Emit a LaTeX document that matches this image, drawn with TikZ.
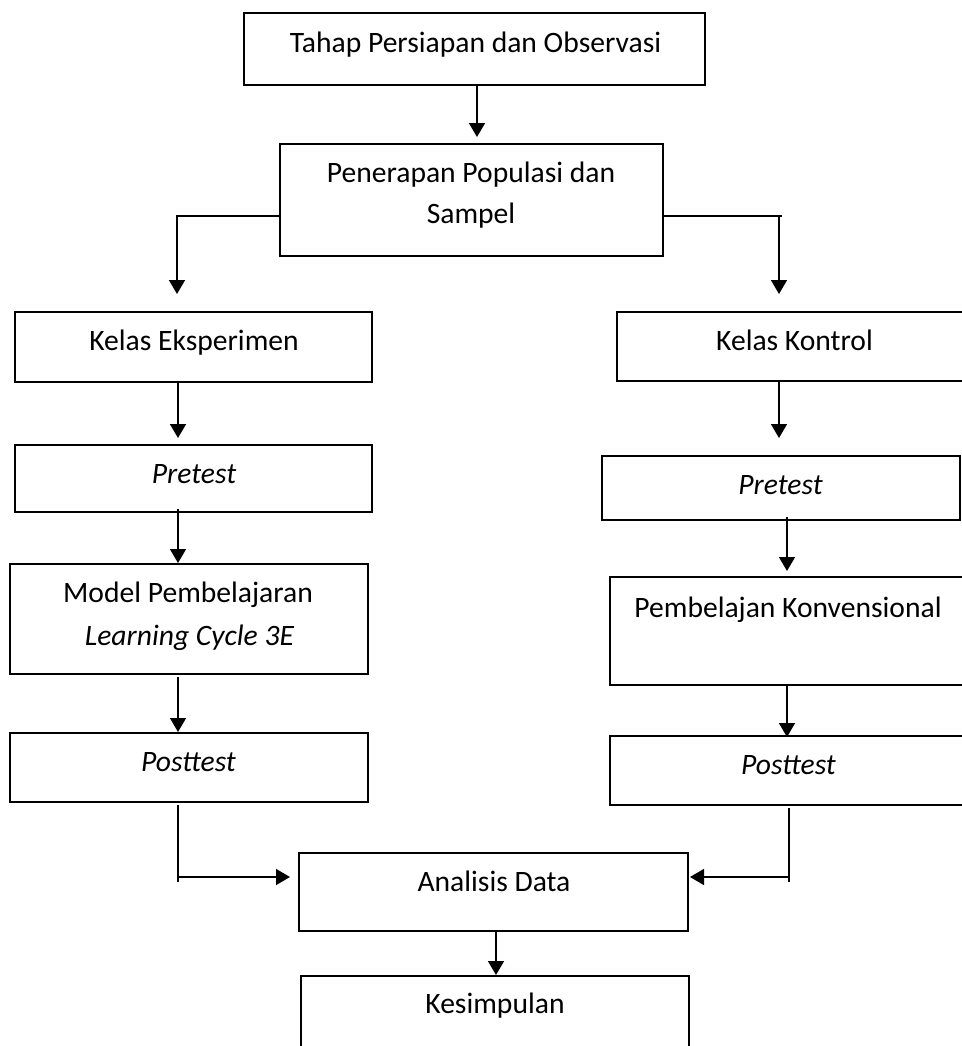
\documentclass[tikz,border=0pt]{standalone}
\usepackage{fontspec}
\setmainfont{Carlito}
\usetikzlibrary{arrows.meta,calc}
\tikzset{
  box/.style={draw=black, line width=1pt, rectangle, inner sep=0pt},
  txt/.style={anchor=base, inner sep=0pt, font=\fontsize{14.8pt}{18pt}\selectfont},
  arr/.style={draw=black, line width=0.75pt, -{Triangle[length=7pt,width=8pt]}},
  ln/.style={draw=black, line width=0.75pt}
}
\begin{document}
\begin{tikzpicture}[x=0.5pt,y=-0.5pt]
\useasboundingbox (0,0) rectangle (962,1046);
\clip (0,0) rectangle (962,1046);
\fill[white] (0,0) rectangle (962,1046);
% boxes
\node[box, minimum width=230.5pt, minimum height=36pt] (b1) at (474.5,49) {};
\node[box, minimum width=191.5pt, minimum height=56pt] (b2) at (471.5,200) {};
\node[box, minimum width=178.5pt, minimum height=35pt] (ke) at (193.5,347) {};
\node[box, minimum width=178pt, minimum height=34.5pt] (kk) at (795,346.5) {};
\node[box, minimum width=178.5pt, minimum height=33.5pt] (pl) at (193.5,478.5) {};
\node[box, minimum width=179pt, minimum height=32pt] (pr) at (781,488) {};
\node[box, minimum width=179pt, minimum height=55pt] (ml) at (189,619) {};
\node[box, minimum width=178pt, minimum height=54pt] (pk) at (788,631) {};
\node[box, minimum width=179pt, minimum height=34.5pt] (pol) at (189,767.5) {};
\node[box, minimum width=178pt, minimum height=34.5pt] (por) at (788,770.5) {};
\node[box, minimum width=194.5pt, minimum height=39pt] (ana) at (493.5,892) {};
\node[box, minimum width=194pt, minimum height=42pt] (kes) at (495,1018) {};
% texts
\node[txt] (t1) at (475.5,52) {Tahap Persiapan dan Observasi};
\node[txt] (t2a) at (471,182) {Penerapan Populasi dan};
\node[txt] (t2b) at (471,223) {Sampel};
\node[txt] (tke) at (194,350) {Kelas Eksperimen};
\node[txt] (tkk) at (794.5,350) {Kelas Kontrol};
\node[txt] (tpl) at (194,483) {\itshape Pretest};
\node[txt] (tpr) at (780.5,494) {\itshape Pretest};
\node[txt] (tmla) at (188,602) {Model Pembelajaran};
\node[txt] (tmlb) at (189.5,645) {\itshape Learning Cycle 3E};
\node[txt] (tpk) at (788,617) {Pembelajan Konvensional};
\node[txt] (tpol) at (188.5,771) {\itshape Posttest};
\node[txt] (tpor) at (788.5,774) {\itshape Posttest};
\node[txt] (tana) at (494,891.5) {Analisis Data};
\node[txt] (tkes) at (495,1013) {Kesimpulan};
% connectors
\draw[arr, shorten >=3pt] ([xshift=1.25pt]b1.south) -- ([xshift=1.25pt]b1.south |- b2.north);
\draw[arr, shorten >=8.5pt] ([yshift=-8pt]b2.west) -| ([xshift=-8.25pt]ke.north);
\draw[arr, shorten >=8.5pt] ([yshift=-8pt]b2.east) -| ([xshift=-8pt]kk.north);
\coordinate (rc) at ([xshift=-8pt,yshift=-8pt]kk.north |- b2.east);
\draw[ln] (rc) -- ++(1.5pt,0);
\draw[arr, shorten >=3pt] ([xshift=-7.75pt]ke.south) -- ([xshift=-7.75pt]ke.south |- pl.north);
\draw[arr, shorten >=8.5pt] ([xshift=-8pt]kk.south) -- ([xshift=-8pt]kk.south |- pr.north);
\draw[arr] ([xshift=-7.75pt,yshift=2pt]pl.south) -- ([xshift=-7.75pt]pl.south |- ml.north);
\draw[arr, shorten >=2.5pt] ([xshift=3pt,yshift=2pt]pr.south) -- ([xshift=3pt]pr.south |- pk.north);
\draw[arr] ([xshift=-5.5pt,yshift=-1pt]ml.south) -- ([xshift=-5.5pt]ml.south |- pol.north);
\draw[arr, shorten >=-1pt] ([xshift=-0.5pt]pk.south) -- ([xshift=-0.5pt]pk.south |- por.north);
\coordinate (cl) at ([xshift=-5.5pt]pol.south |- ana.west);
\coordinate (cr) at ([xshift=0.5pt]por.south |- ana.west);
\draw[arr, shorten >=4pt] ([xshift=-5.5pt,yshift=-1pt]pol.south) |- ([yshift=7.5pt]ana.west);
\draw[ln] ([yshift=7.5pt]cl) -- ++(0,-2.5pt);
\draw[arr, shorten >=0.5pt] ([xshift=0.5pt,yshift=-1pt]por.south) |- ([yshift=7.5pt]ana.east);
\draw[ln] ([yshift=7.5pt]cr) -- ++(0,-2.5pt);
\draw[arr] ([xshift=1.25pt]ana.south) -- ([xshift=1.25pt]ana.south |- kes.north);
\end{tikzpicture}
\end{document}
